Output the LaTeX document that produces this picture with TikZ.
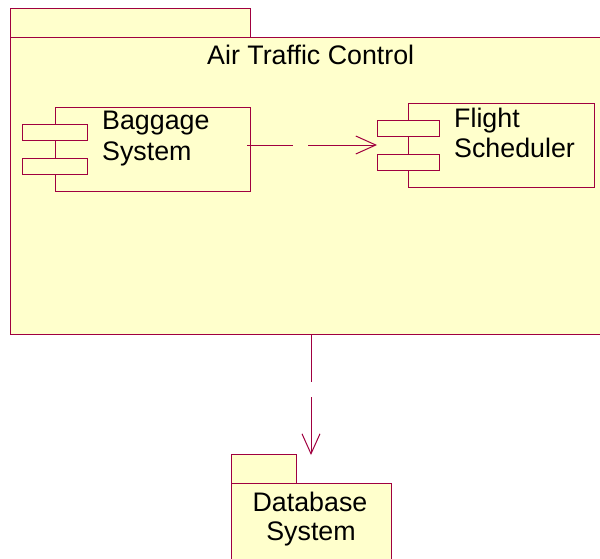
\documentclass[tikz,border=0pt]{standalone}
\usepackage{fontspec}
\setmainfont{Liberation Sans}
\usetikzlibrary{arrows.meta}
\definecolor{umlline}{RGB}{160,0,64}
\definecolor{umlfill}{RGB}{255,255,204}
\begin{document}
\begin{tikzpicture}[x=1pt,y=-1pt,
  box/.style={draw=umlline,fill=umlfill,line width=1pt,rectangle,inner sep=0pt,outer sep=0pt,anchor=north west},
  area/.style={fill=umlfill,rectangle,inner sep=0pt,outer sep=0pt,anchor=north west},
  edge/.style={draw=umlline,line width=1pt},
  lbl/.style={inner sep=0pt,anchor=base west,font=\fontsize{26.8}{30}\selectfont},
  clbl/.style={inner sep=0pt,anchor=base,font=\fontsize{26.8}{30}\selectfont},
  dep/.style={draw=umlline,line width=1pt,-{Straight Barb[length=20pt,width=18pt]}}]
\useasboundingbox (0,0) rectangle (600,558);
% Air Traffic Control package
\node[box,minimum width=240pt,minimum height=29pt] (atctab) at (10,8) {};
\node[area,minimum width=590pt,minimum height=297pt] (atc) at (10,37) {};
\draw[edge] (atc.north east) -- (atc.north west) -- (atc.south west) -- (atc.south east);
\node[lbl] (atct) at (207,64) {Air Traffic Control};
% Baggage System component
\node[box,minimum width=195pt,minimum height=84pt] (bag) at (55,107) {};
\node[box,minimum width=65pt,minimum height=16pt] (bag1) at (22,124) {};
\node[box,minimum width=65pt,minimum height=16pt] (bag2) at (22,158) {};
\node[lbl] (bagt1) at (102,129) {Baggage};
\node[lbl] (bagt2) at (102,160) {System};
% Flight Scheduler component
\node[box,minimum width=186pt,minimum height=84pt] (fs) at (408,103) {};
\node[box,minimum width=62pt,minimum height=16pt] (fs1) at (377,120) {};
\node[box,minimum width=62pt,minimum height=16pt] (fs2) at (377,154) {};
\node[lbl] (fst1) at (454,127) {Flight};
\node[lbl] (fst2) at (454,157) {Scheduler};
% Database System package
\node[box,minimum width=65pt,minimum height=29pt] (dbtab) at (231,454) {};
\node[area,minimum width=160pt,minimum height=80pt] (db) at (231,483) {};
\draw[edge] (db.south west) -- (db.north west) -- (db.north east) -- (db.south east);
\node[clbl] (dbt1) at (310,511) {Database};
\node[clbl] (dbt2) at (311,540) {System};
% dependencies
\draw[dep,dash pattern=on 46pt off 15pt on 200pt] ([xshift=-3pt]bag.east |- fs.west) -- (fs1.west |- fs.west);
\draw[dep,dash pattern=on 48pt off 15pt on 200pt] (db.north |- atc.south) -- ([yshift=-1pt]db.north |- dbtab.north);
\end{tikzpicture}
\end{document}
